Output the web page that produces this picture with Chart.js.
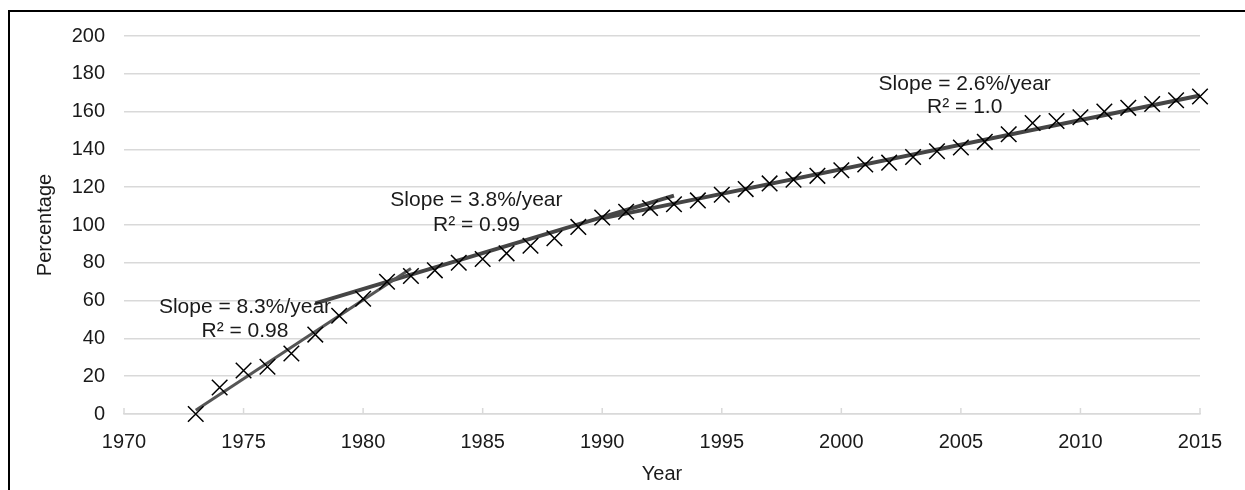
<!DOCTYPE html>
<html>
<head>
<meta charset="utf-8">
<script src="https://cdn.jsdelivr.net/npm/chart.js@4/dist/chart.umd.min.js"></script>
<style>
  html, body { margin: 0; padding: 0; background: #fff; }
  #wrap { position: relative; width: 1245px; height: 490px; overflow: hidden; }
  #frame { position: absolute; left: 8px; top: 10px; width: 2000px; height: 1000px;
           border-top: 2px solid #000; border-left: 2px solid #000; pointer-events: none; }
</style>
</head>
<body>
<div id="wrap">
  <canvas id="chart" width="1245" height="490"></canvas>
  <div id="frame"></div>
</div>
<script>
const years = [1973, 1974, 1975, 1976, 1977, 1978, 1979, 1980, 1981, 1982,
  1983, 1984, 1985, 1986, 1987, 1988, 1989, 1990, 1991, 1992,
  1993, 1994, 1995, 1996, 1997, 1998, 1999, 2000, 2001, 2002,
  2003, 2004, 2005, 2006, 2007, 2008, 2009, 2010, 2011, 2012,
  2013, 2014, 2015];
const percentage = [0, 14, 23, 25, 32, 42, 52, 61, 70, 73,
  76, 80, 82, 85, 89, 93, 99, 104, 107, 109,
  111, 113, 116, 119, 122, 124, 126, 129, 132, 133,
  136, 139, 141, 144, 148, 154, 155, 157, 160, 162,
  164, 166, 168];

// linear fits for three periods (end points of each fitted line)
const trend1Years = [1973, 1982];
const trend1Values = [2, 77];
const trend2Years = [1978, 1993];
const trend2Values = [58.5, 115.5];
const trend3Years = [1990, 2015];
const trend3Values = [103.5, 168.5];

const slopeLabels = ['Slope = 8.3%/year', 'Slope = 3.8%/year', 'Slope = 2.6%/year'];
const r2Labels = ['R\u00b2 = 0.98', 'R\u00b2 = 0.99', 'R\u00b2 = 1.0'];

const xTicks = [1970, 1975, 1980, 1985, 1990, 1995, 2000, 2005, 2010, 2015];

// where the fit labels sit, in data units
const labelSpots = [
  { x: 1975.06, y: 56.6, y2: 43.9 },
  { x: 1984.74, y: 113.2, y2: 100 },
  { x: 2005.16, y: 174.6, y2: 162.2 }
];

const toPoints = (xs, ys) => xs.map((x, i) => ({ x: x, y: ys[i] }));

const fitLabels = {
  id: 'fitLabels',
  afterDatasetsDraw(chart) {
    const { ctx, scales } = chart;
    ctx.save();
    ctx.font = '21px "Liberation Sans", Arial, sans-serif';
    ctx.fillStyle = '#1a1a1a';
    ctx.textAlign = 'center';
    ctx.textBaseline = 'middle';
    labelSpots.forEach((s, i) => {
      const px = scales.x.getPixelForValue(s.x);
      ctx.fillText(slopeLabels[i], px, scales.y.getPixelForValue(s.y));
      ctx.fillText(r2Labels[i], px, scales.y.getPixelForValue(s.y2));
    });
    ctx.restore();
  }
};

// small tick marks pointing up from the x axis
const innerTicks = {
  id: 'innerTicks',
  afterDraw(chart) {
    const { ctx, scales } = chart;
    const base = scales.y.getPixelForValue(0);
    ctx.save();
    ctx.strokeStyle = '#d9d9d9';
    ctx.lineWidth = 1.5;
    xTicks.forEach(t => {
      const px = scales.x.getPixelForValue(t);
      ctx.beginPath();
      ctx.moveTo(px, base);
      ctx.lineTo(px, base - 6);
      ctx.stroke();
    });
    ctx.restore();
  }
};

const font = { family: '"Liberation Sans", Arial, sans-serif', size: 20, lineHeight: 1.2 };
const trendStyle = { showLine: true, pointRadius: 0, borderColor: '#454545', borderWidth: 4, fill: false, clip: false };

new Chart(document.getElementById('chart'), {
  type: 'scatter',
  data: {
    datasets: [
      {
        label: 'Percentage',
        data: toPoints(years, percentage),
        pointStyle: 'crossRot',
        pointRadius: 11,
        pointBorderColor: '#000',
        pointBorderWidth: 1.5,
        clip: false,
        order: 0
      },
      Object.assign({ label: 'Fit 1973-1982', data: toPoints(trend1Years, trend1Values), order: 1 }, trendStyle, { borderWidth: 3, borderColor: '#555' }),
      Object.assign({ label: 'Fit 1978-1993', data: toPoints(trend2Years, trend2Values), order: 1 }, trendStyle),
      Object.assign({ label: 'Fit 1990-2015', data: toPoints(trend3Years, trend3Values), order: 1 }, trendStyle)
    ]
  },
  options: {
    responsive: false,
    animation: false,
    layout: { padding: { left: 0, right: 45, top: 36, bottom: 0 } },
    plugins: { legend: { display: false }, tooltip: { enabled: false } },
    scales: {
      x: {
        type: 'linear',
        min: 1970,
        max: 2015,
        afterBuildTicks: axis => { axis.ticks = xTicks.map(v => ({ value: v })); },
        afterFit: axis => { axis.height = 76; },
        grid: { display: false, drawTicks: false },
        border: { display: true, color: '#d9d9d9', width: 1.5 },
        ticks: { color: '#1a1a1a', font: font, padding: 16, maxRotation: 0, callback: v => String(v) },
        title: { display: true, text: 'Year', color: '#1a1a1a', font: font, padding: { top: 0, bottom: 4 } }
      },
      y: {
        min: 0,
        max: 200,
        afterFit: axis => { axis.width = 124; },
        grid: { color: '#d9d9d9', lineWidth: 1.5, drawTicks: false },
        border: { display: false },
        ticks: { stepSize: 20, color: '#1a1a1a', font: font, padding: 19 },
        title: { display: true, text: 'Percentage', color: '#1a1a1a', font: font, padding: { top: 33, bottom: 0 } }
      }
    }
  },
  plugins: [fitLabels, innerTicks]
});
</script>
</body>
</html>
